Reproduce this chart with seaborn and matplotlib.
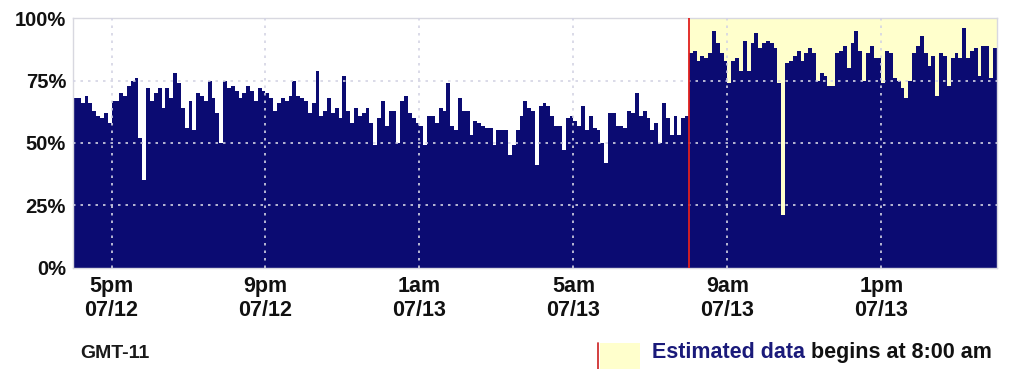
import pandas as pd
import seaborn as sns
import matplotlib.pyplot as plt
from matplotlib import font_manager
from matplotlib.lines import Line2D
from matplotlib.patches import Rectangle

# 6-minute slots, 4:00 pm 07/12 -> 4:00 pm 07/13 (GMT-11)
# measured part, 4pm - 8am
measured_pct = [
    68, 68, 66, 69, 66, 63, 61, 60, 62, 58,
    67, 67, 70, 69, 73, 75, 76, 52, 35, 72,
    67, 70, 72, 64, 72, 68, 78, 74, 64, 56, 67, 55, 70, 69, 67, 75, 68, 62, 50, 75,
    72, 73, 71, 68, 70, 73, 71, 67, 72, 71,
    70, 68, 63, 66, 68, 67, 69, 75, 69, 68, 67, 62, 66, 79, 61, 63, 68, 62, 64, 60, 77,
    63, 58, 64, 61, 62, 64, 58, 49, 60, 67, 57, 63, 63, 50, 67, 69, 62, 60, 58, 57,
    49, 61, 61, 58, 64, 63, 74, 57, 55, 68, 63, 63, 53, 59, 58, 57, 56, 56, 49, 55,
    55, 55, 45, 49, 55, 61, 67, 64, 63, 41, 65, 66, 65, 61, 57, 57, 47, 60, 61, 59,
    57, 65, 55, 61, 56, 55, 50, 42, 62, 62, 57, 57, 56, 63, 62, 70, 61, 63, 60, 55,
    58, 50, 66, 60, 53, 61, 53, 60, 61,
]
# estimated part, 8am - 4pm
estimated_pct = [
    86, 87, 83, 85, 84, 86, 95, 90, 86, 83,
    74, 83, 84, 79, 91, 79, 90, 94, 88, 90,
    91, 90, 88, 74, 21, 82, 83, 85, 87, 83,
    86, 88, 86, 75, 78, 77, 73, 73, 86, 87,
    89, 80, 90, 95, 87, 75, 86, 89, 84, 84,
    74, 87, 86, 76, 75, 72, 68, 75, 86, 89,
    93, 86, 81, 85, 69, 86, 85, 73, 84, 86,
    84, 96, 84, 87, 88, 77, 89, 89, 76, 88,
]
tick_labels = ["5pm\n07/12", "9pm\n07/12", "1am\n07/13", "5am\n07/13", "9am\n07/13", "1pm\n07/13"]
ytick_labels = ["0%", "25%", "50%", "75%", "100%"]

values = measured_pct + estimated_pct
df = pd.DataFrame({"slot": range(len(values)), "pct": values})
n_meas = len(measured_pct)

NAVY = "#0b0b72"

sns.set_style("white")
plt.rcParams["font.family"] = ["Liberation Sans", "DejaVu Sans"]

# narrow face for the date labels if it is there
names = {f.name for f in font_manager.fontManager.ttflist}
narrow = "Liberation Sans Narrow" if "Liberation Sans Narrow" in names else "Liberation Sans"

fig = plt.figure(figsize=(10.1, 3.69), dpi=100)
ax = fig.add_axes([0.0723, 0.274, 0.9147, 0.677])

# shaded estimated region
ax.axvspan(n_meas - 0.5, len(values) - 0.5, color="#ffffcc", zorder=0)

sns.barplot(data=df, x="slot", y="pct", color=NAVY, saturation=1, width=1.0,
            linewidth=0, errorbar=None, ax=ax, zorder=2)
# no seams between neighbouring bars
for p in ax.patches:
    p.set_antialiased(False)

ax.axvline(n_meas - 0.5, color="#e02020", lw=1.3, zorder=4)

ax.set_xlim(-0.5, len(values) - 0.5)
ax.set_ylim(0, 100)

xt = [9.5 + 40 * i for i in range(len(tick_labels))]
ax.set_xticks(xt)
ax.set_xticklabels(tick_labels, fontsize=15.5, fontweight="bold", linespacing=1.2,
                   family=narrow, color="#111111")
ax.set_yticks([0, 25, 50, 75, 100])
ax.set_yticklabels(ytick_labels, fontsize=14.5, fontweight="bold", color="#111111")
ax.tick_params(length=0)
ax.tick_params(axis="x", pad=6)
ax.tick_params(axis="y", pad=5)
ax.set_xlabel("")
ax.set_ylabel("")

for y in [25, 50, 75]:
    ax.axhline(y, color="#d4d4e4", lw=1.2, ls=(0, (1.5, 3)), zorder=3)
for x in xt:
    ax.axvline(x, color="#d4d4e4", lw=1.2, ls=(0, (1.5, 3)), zorder=3)

for s in ax.spines.values():
    s.set_color("#d8d8e0")
    s.set_linewidth(1)

fig.text(0.079, 0.03, "GMT-11", fontsize=14, fontweight="bold", color="#1a1a1a")

# legend for estimated data
fig.add_artist(Line2D([598 / 1010, 598 / 1010], [0.0, 26 / 369], color="#d03030", lw=1.3))
fig.add_artist(Rectangle((600 / 1010, 0.0), 40 / 1010, 26 / 369, color="#ffffcc", lw=0))
t1 = fig.text(652 / 1010, 0.03, "Estimated data", fontsize=15.5, fontweight="bold", color="#1a1a7a")
fig.canvas.draw()
bb = t1.get_window_extent()
fig.text(bb.x1 / fig.bbox.width + 0.006, 0.03, "begins at 8:00 am", fontsize=15.5,
         fontweight="bold", color="#111111")

plt.savefig("out.png", dpi=100)
